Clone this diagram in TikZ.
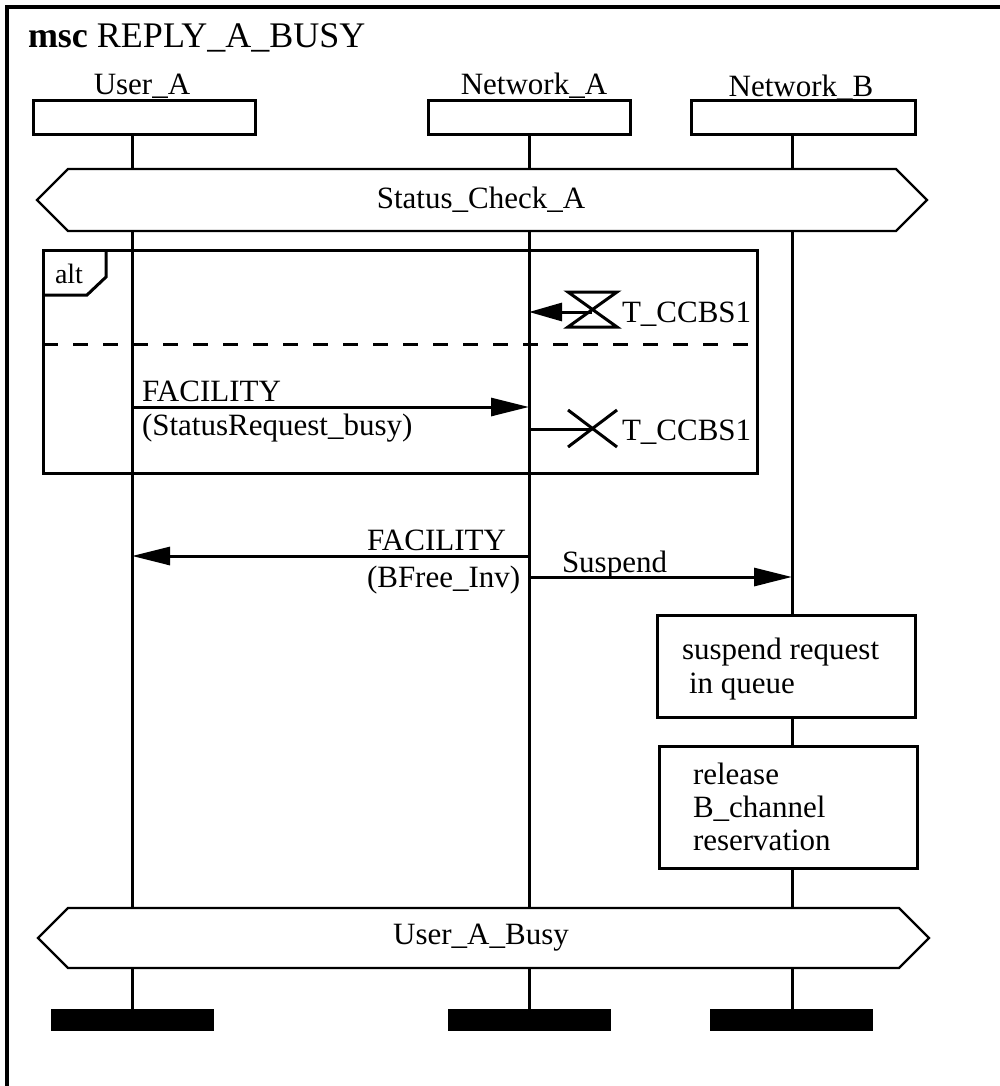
\documentclass[tikz,border=0pt]{standalone}
\usepackage{fontspec}
\setmainfont{Liberation Serif}
\usetikzlibrary{arrows.meta}
\begin{document}
\begin{tikzpicture}[x=1pt,y=-1pt,
  every node/.style={font=\fontsize{31}{36}\selectfont, inner sep=0pt, outer sep=0pt},
  txt/.style={anchor=base west},
  ctxt/.style={anchor=base},
  ln/.style={line width=3pt},
  boxstyle/.style={draw, line width=3pt, minimum height=34pt},
  actbox/.style={draw, line width=3pt},
  msg/.style={line width=3pt, -{Triangle[length=38pt,width=18pt]}},
  cond/.style={line width=2.2pt},
  endbar/.style={fill=black, minimum height=22pt}]
\useasboundingbox (0,0) rectangle (1000,1086);
\fill[white] (0,0) rectangle (1000,1086);
% frame
\draw[line width=3.2pt] (7,1086) -- (7,7) -- (1000,7);
\node[txt, font=\fontsize{36}{40}\selectfont] (title) at (28,48) {\textbf{msc} REPLY\_A\_BUSY};
% instance heads
\node[ctxt] (lua) at (142,95) {User\_A};
\node[ctxt] (lna) at (534,95) {Network\_A};
\node[ctxt] (lnb) at (801,97) {Network\_B};
\node[boxstyle, minimum width=222pt] (ua) at (144,118) {};
\node[boxstyle, minimum width=202pt] (na) at (529,118) {};
\node[boxstyle, minimum width=224pt] (nb) at (803,118) {};
% lifeline coordinates
\coordinate (ua1) at (132,135); \coordinate (ua2) at (132,169);
\coordinate (ua3) at (132,231); \coordinate (ua4) at (132,908);
\coordinate (ua5) at (132,968); \coordinate (ua6) at (132,1009);
\coordinate (na1) at (529,135); \coordinate (na2) at (529,169);
\coordinate (na3) at (529,231); \coordinate (na4) at (529,908);
\coordinate (na5) at (529,968); \coordinate (na6) at (529,1009);
\coordinate (nb1) at (792,135); \coordinate (nb2) at (792,169);
\coordinate (nb3) at (792,231); \coordinate (nb4) at (792,615);
\coordinate (nb5) at (792,717); \coordinate (nb6) at (792,746);
\coordinate (nb7) at (792,868); \coordinate (nb8) at (792,908);
\coordinate (nb9) at (792,968); \coordinate (nb10) at (792,1009);
\draw[ln] (ua1) -- (ua2) (ua3) -- (ua4) (ua5) -- (ua6);
\draw[ln] (na1) -- (na2) (na3) -- (na4) (na5) -- (na6);
\draw[ln] (nb1) -- (nb2) (nb3) -- (nb4) (nb5) -- (nb6) (nb7) -- (nb8) (nb9) -- (nb10);
% condition Status_Check_A
\draw[cond] (37,200) -- (68,169) -- (896,169) -- (927,200) -- (896,231) -- (68,231) -- cycle;
\node (sca) at (481,200) {Status\_Check\_A};
% alt frame
\draw[ln] (43,250) rectangle (757,473);
\draw[ln] (43,295) -- (87,295) -- (106,277) -- (106,250);
\node[txt, font=\fontsize{28}{32}\selectfont] (alt) at (55,283) {alt};
\draw[ln, dash pattern=on 15pt off 15pt] (43,344) -- (757,344);
% timeout T_CCBS1
\coordinate (tm1) at (592,312);
\coordinate (na-t1) at (529,312);
\draw[ln] (568,292) -- (617,292) -- (568,327) -- (617,327) -- cycle;
\draw[line width=3pt, -{Triangle[length=33pt,width=18pt]}] (tm1) -- (na-t1);
\node[txt] (t1) at (622,322) {T\_CCBS1};
% FACILITY (StatusRequest_busy)
\coordinate (ua-m1) at (132,407); \coordinate (na-m1) at (529,407);
\draw[msg] (ua-m1) -- (na-m1);
\node[txt] (m1a) at (142,401) {FACILITY};
\node[txt] (m1b) at (142,435) {(StatusRequest\_busy)};
% timer set T_CCBS1
\coordinate (na-t2) at (529,429); \coordinate (tm2) at (592,429);
\draw[ln] (na-t2) -- (tm2);
\draw[ln] (568,410) -- (617,447) (568,447) -- (617,410);
\node[txt] (t2) at (622,440) {T\_CCBS1};
% FACILITY (BFree_Inv)
\coordinate (na-m2) at (529,556); \coordinate (ua-m2) at (132,556);
\draw[msg] (na-m2) -- (ua-m2);
\node[txt] (m2a) at (367,550) {FACILITY};
\node[txt] (m2b) at (367,587) {(BFree\_Inv)};
% Suspend
\coordinate (na-m3) at (529,577); \coordinate (nb-m3) at (792,577);
\draw[msg] (na-m3) -- (nb-m3);
\node[txt] (m3) at (562,572) {Suspend};
% actions
\node[actbox, minimum width=258pt, minimum height=102pt] (act1) at (786,666) {};
\node[txt] (a1a) at (682,659) {suspend request};
\node[txt] (a1b) at (689,693) {in queue};
\node[actbox, minimum width=258pt, minimum height=122pt] (act2) at (788,807) {};
\node[txt] (a2a) at (693,784) {release};
\node[txt] (a2b) at (693,817) {B\_channel};
\node[txt] (a2c) at (693,850) {reservation};
% condition User_A_Busy
\draw[cond] (38,938) -- (68,908) -- (899,908) -- (929,938) -- (899,968) -- (68,968) -- cycle;
\node (uab) at (481,938) {User\_A\_Busy};
% instance ends
\node[endbar, minimum width=163pt] (ea) at (132.5,1020) {};
\node[endbar, minimum width=163pt] (eb) at (529.5,1020) {};
\node[endbar, minimum width=163pt] (ec) at (791.5,1020) {};
\end{tikzpicture}
\end{document}
